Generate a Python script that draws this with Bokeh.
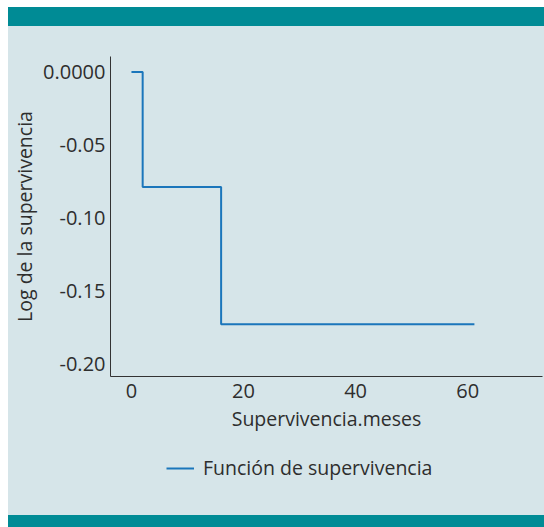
from bokeh.plotting import figure
from bokeh.models import FixedTicker, Legend, LegendItem, Range1d, Div
from bokeh.layouts import column, row
from bokeh.embed import file_html
from bokeh.resources import INLINE

# Data
meses = [0, 2, 16, 61.2]
log_superv = [0.0, -0.079, -0.173, -0.173]
x_ticks = [0, 20, 40, 60]
y_ticks = [0.0, -0.05, -0.10, -0.15, -0.20]
y_tick_labels = ["0.0000", "-0.05", "-0.10", "-0.15", "-0.20"]
serie = "Función de supervivencia"
x_title = "Supervivencia.meses"
y_title = "Log de la supervivencia"

BG = "#d6e5e9"
TEAL = "#008b95"
LINE = "#1b76bb"
TXT = "#2e2e2e"
FONT = "Open Sans"
W = 536


def strip(w, h, color):
    return Div(text="", width=w, height=h, margin=0,
               styles={"background-color": color})


left_white = strip(8, 527, "white")
top_white = strip(W, 7, "white")
top_band = strip(W, 19, TEAL)
bottom_band = strip(W, 12, TEAL)

# main chart
p = figure(width=W, height=424, output_backend="svg", toolbar_location=None,
           x_range=Range1d(-3.74, 73.35), y_range=Range1d(-0.2089, 0.0106),
           min_border_left=101, min_border_right=2, min_border_top=30,
           min_border_bottom=74)
p.background_fill_color = None
p.border_fill_color = None
p.outline_line_color = None
p.grid.visible = False

p.step(meses, log_superv, mode="after", line_color=LINE, line_width=2)

for ax in (p.xaxis[0], p.yaxis[0]):
    ax.axis_line_color = "#333333"
    ax.axis_line_width = 1
    ax.major_tick_line_color = None
    ax.minor_tick_line_color = None
    ax.major_tick_out = 0
    ax.major_tick_in = 0
    ax.major_label_text_font = FONT
    ax.major_label_text_font_size = "20px"
    ax.major_label_text_color = TXT
    ax.axis_label_text_font = FONT
    ax.axis_label_text_font_size = "19.5px"
    ax.axis_label_text_font_style = "normal"
    ax.axis_label_text_color = TXT

p.xaxis.ticker = FixedTicker(ticks=x_ticks)
p.xaxis.axis_label = x_title
p.xaxis.major_label_standoff = 7
p.xaxis.axis_label_standoff = 4

p.yaxis.ticker = FixedTicker(ticks=y_ticks)
p.yaxis.major_label_overrides = {t: l for t, l in zip(y_ticks, y_tick_labels)}
p.yaxis.axis_label = y_title
p.yaxis.major_label_standoff = 5
p.yaxis.axis_label_standoff = 2

# legend strip (its own ranges keep the series out of view; only the key shows)
lg = figure(width=W, height=65, output_backend="svg", toolbar_location=None,
            x_range=Range1d(-3.74, 73.35), y_range=Range1d(10, 11),
            min_border=0, x_axis_type=None, y_axis_type=None)
lg.background_fill_color = None
lg.border_fill_color = None
lg.outline_line_color = None
lg.grid.visible = False
lr = lg.step(meses, log_superv, mode="after", line_color=LINE, line_width=2)
legend = Legend(items=[LegendItem(label=serie, renderers=[lr])],
                location=(56, 34), orientation="horizontal",
                background_fill_alpha=0, border_line_color=None,
                label_text_font=FONT, label_text_font_size="19.5px",
                label_text_color=TXT, glyph_width=28, label_standoff=9,
                padding=0, margin=0)
lg.add_layout(legend, "center")

layout = row(left_white,
             column(top_white, top_band, p, lg, bottom_band, spacing=0,
                    styles={"background-color": BG}),
             spacing=0)
open("out.html", "w").write(file_html(layout, INLINE))
